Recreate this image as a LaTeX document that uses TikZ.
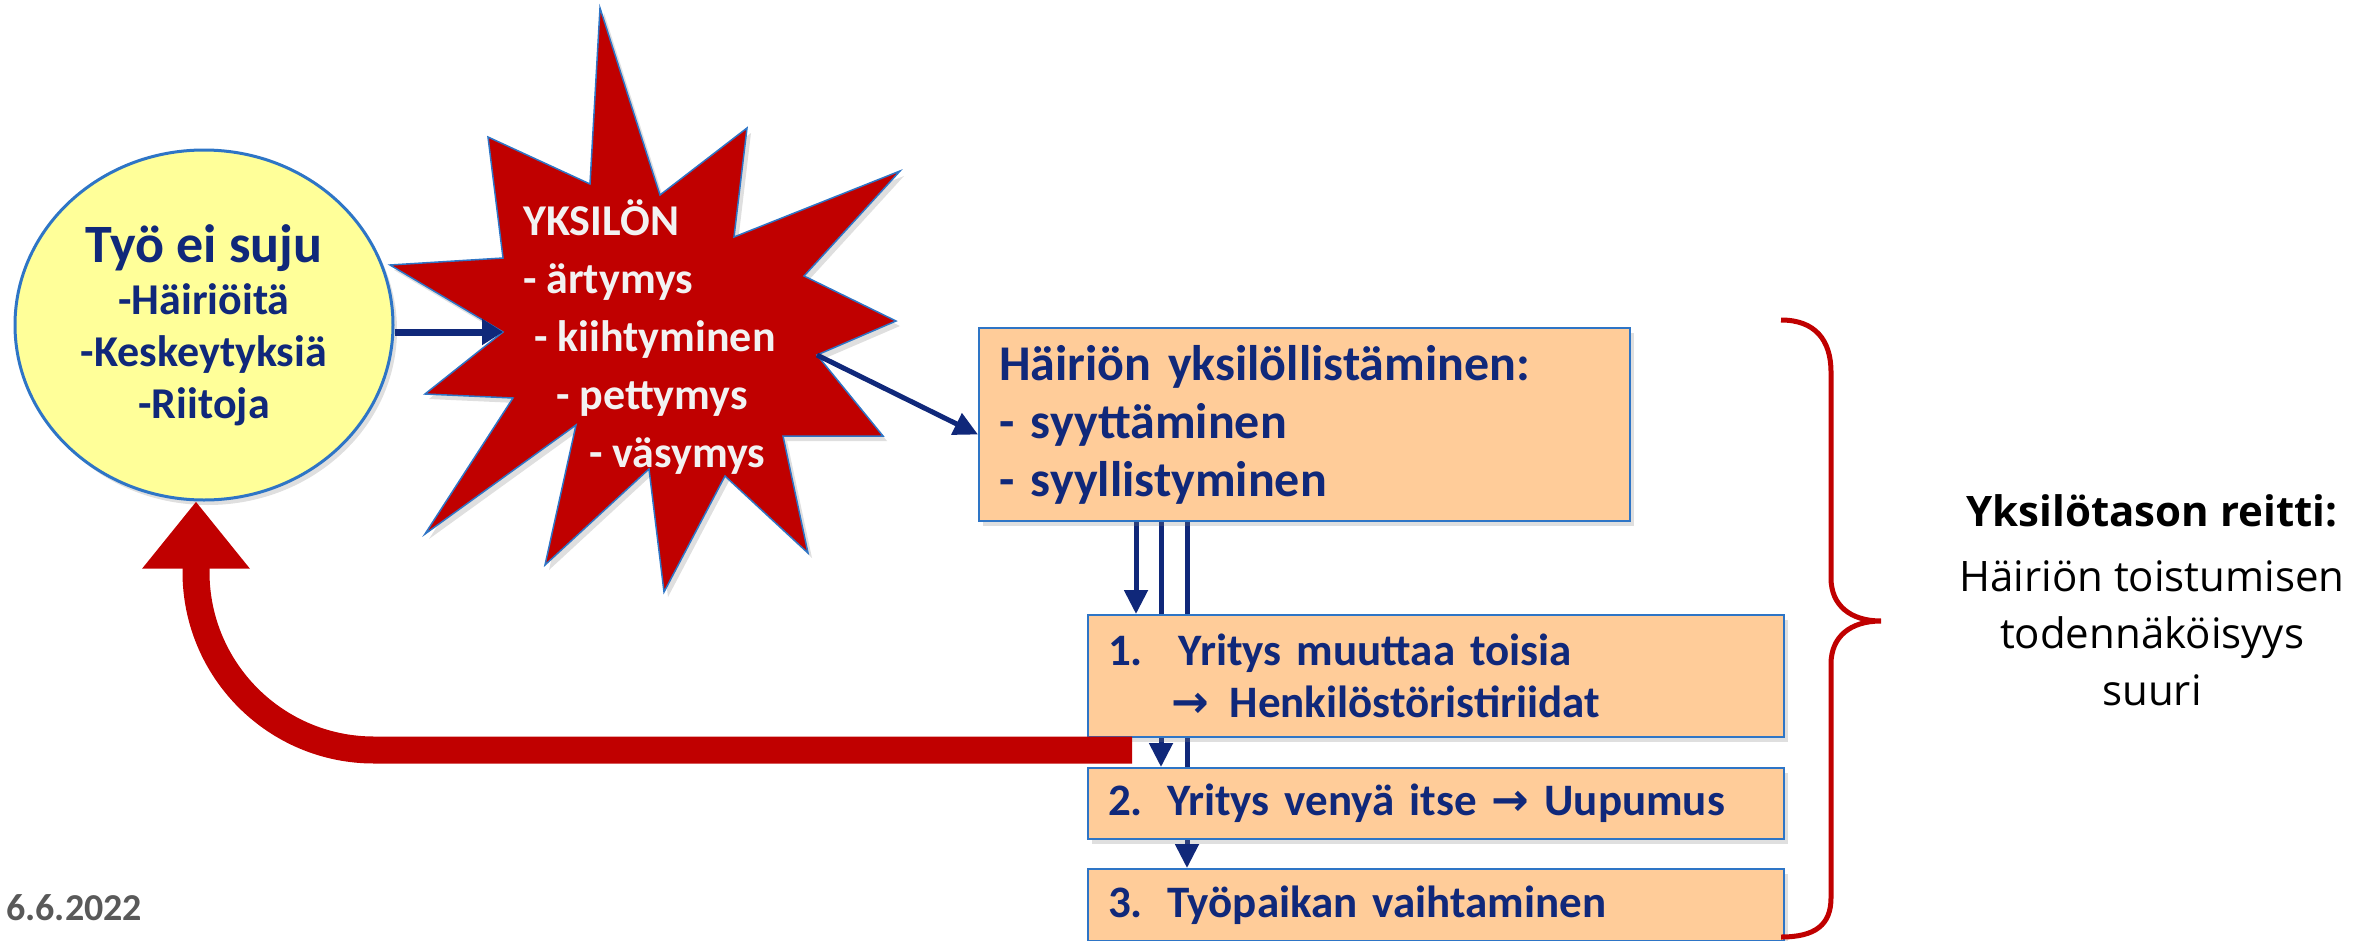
\documentclass[tikz,border=0pt]{standalone}
\usepackage{fontspec}
\setmainfont{Carlito}
\newfontfamily\reittifont{Open Sans}
\newfontfamily\nuolifont{DejaVu Sans}
\usetikzlibrary{positioning,shapes.geometric,arrows.meta,shadows}
\definecolor{navy}{HTML}{10287A}
\definecolor{peach}{HTML}{FFCC99}
\definecolor{paleyellow}{HTML}{FFFF99}
\definecolor{frameblue}{HTML}{2E75C6}
\definecolor{darkred}{HTML}{C00000}
\definecolor{dategray}{HTML}{595959}
\pgfdeclarelayer{background}
\pgfsetlayers{background,main}
\tikzset{
    soft-shadow/.style = {drop shadow={shadow xshift=4pt, shadow yshift=-5pt, opacity=0.25}},
    yellow-ellipse/.style = {ellipse, draw=frameblue, fill=paleyellow, line width=3pt, inner sep=0pt, text=navy, align=center, font=\fontsize{44}{52}\selectfont\bfseries, soft-shadow},
    peach-box/.style = {rectangle, draw=frameblue, fill=peach, line width=2pt, inner xsep=20pt, inner ysep=0pt, text=navy, align=left, soft-shadow},
    burst/.style = {fill=darkred, draw=frameblue, line width=1.5pt, soft-shadow},
    burst-text/.style = {inner sep=0pt, align=left, text=white!95!black, font=\fontsize{44}{58}\selectfont\bfseries},
    navy-arrow/.style = {draw=navy, line width=5pt, -{Triangle[width=23pt,length=24pt]}},
    red-return/.style = {draw=darkred, line width=27pt, -{Triangle[width=103pt,length=67pt]}, rounded corners=178pt},
    red-brace/.style = {draw=darkred, line width=5pt},
}

\begin{document}
\begin{tikzpicture}[x=1pt, y=-1pt]
\useasboundingbox (0,0) rectangle (2372,940);

\node [yellow-ellipse, minimum width=378pt, minimum height=350pt] (tyo) at (204,325)
    {{\fontsize{54}{60}\selectfont Työ ei suju}\\-Häiriöitä\\-Keskeytyksiä\\-Riitoja};

\draw [burst] (600,8) -- (660,195) -- (747,128) -- (734,237) -- (900,171) -- (804,276)
    -- (896,321) -- (817,355) -- (883,436) -- (783,436) -- (808,553) -- (725,476)
    -- (664,592) -- (649,469) -- (545,565) -- (576,425) -- (425,534) -- (513,398)
    -- (425,394) -- (503,332) -- (390,265) -- (503,258) -- (488,137) -- (590,184) -- cycle;
\coordinate (tahti-vasen) at (503,332);
\coordinate (tahti-oikea) at (817,355);
\node [burst-text, anchor=north west] (yksilon) at (523,199)
    {YKSILÖN\\- ärtymys\\\hspace*{11pt}- kiihtyminen\\\hspace*{33pt}- pettymys\\\hspace*{66pt}- väsymys};

\node [peach-box, anchor=north west, text width=611pt, minimum height=193pt, font=\fontsize{50}{58}\selectfont\bfseries] (hairio) at (978,327)
    {Häiriön yksilöllistäminen:\\- syyttäminen\\- syyllistyminen};

\node [peach-box, anchor=north west, text width=656pt, minimum height=122pt, font=\fontsize{45}{52}\selectfont\bfseries] (yritys1) at (1087,614)
    {\makebox[71pt][l]{1.}Yritys muuttaa toisia\\\hspace*{63pt}{\nuolifont →}\hspace{21pt}Henkilöstöristiriidat};
\node [peach-box, below=29pt of yritys1, text width=656pt, minimum height=71pt, font=\fontsize{45}{52}\selectfont\bfseries] (yritys2)
    {\makebox[59pt][l]{2.}Yritys venyä itse {\nuolifont →} Uupumus};
\node [peach-box, below=28pt of yritys2, text width=656pt, minimum height=72pt, font=\fontsize{45}{52}\selectfont\bfseries] (vaihto)
    {\makebox[59pt][l]{3.}Työpaikan vaihtaminen};

\coordinate (k1) at (1136,0);
\coordinate (k2) at (1161,0);
\coordinate (k3) at (1187,0);
\begin{pgfonlayer}{background}
\draw [navy-arrow] (hairio.south -| k1) -- (yritys1.north -| k1);
\draw [navy-arrow] (hairio.south -| k2) -- (yritys2.north -| k2);
\draw [navy-arrow] (hairio.south -| k3) -- (vaihto.north -| k3);
\end{pgfonlayer}

\draw [navy-arrow, line width=7pt, -{Triangle[width=25pt,length=21pt]}] (tyo.east |- tahti-vasen) -- (tahti-vasen);
\draw [navy-arrow] (tahti-oikea) -- ([yshift=-10pt]hairio.west);

\coordinate (paluu) at (1132,750);
\draw [red-return] (paluu) -| ([xshift=-8pt]tyo.south);

\draw [red-brace] (1781,320) .. controls (1815,320) and (1831,340) .. (1831,372) -- (1831,578)
    .. controls (1831,605) and (1850,621) .. (1881,621)
    .. controls (1850,621) and (1831,637) .. (1831,664) -- (1831,898)
    .. controls (1831,925) and (1815,937) .. (1781,937);

\node [font=\reittifont\fontsize{42}{57}\selectfont, align=center] (reitti) at (2152,600)
    {\textbf{Yksilötason reitti:}\\[8pt]Häiriön toistumisen\\todennäköisyys\\suuri};

\node [anchor=base west, inner sep=0pt, text=dategray, font=\fontsize{38}{44}\selectfont\bfseries] (paiva) at (6,920) {6.6.2022};
\end{tikzpicture}
\end{document}
